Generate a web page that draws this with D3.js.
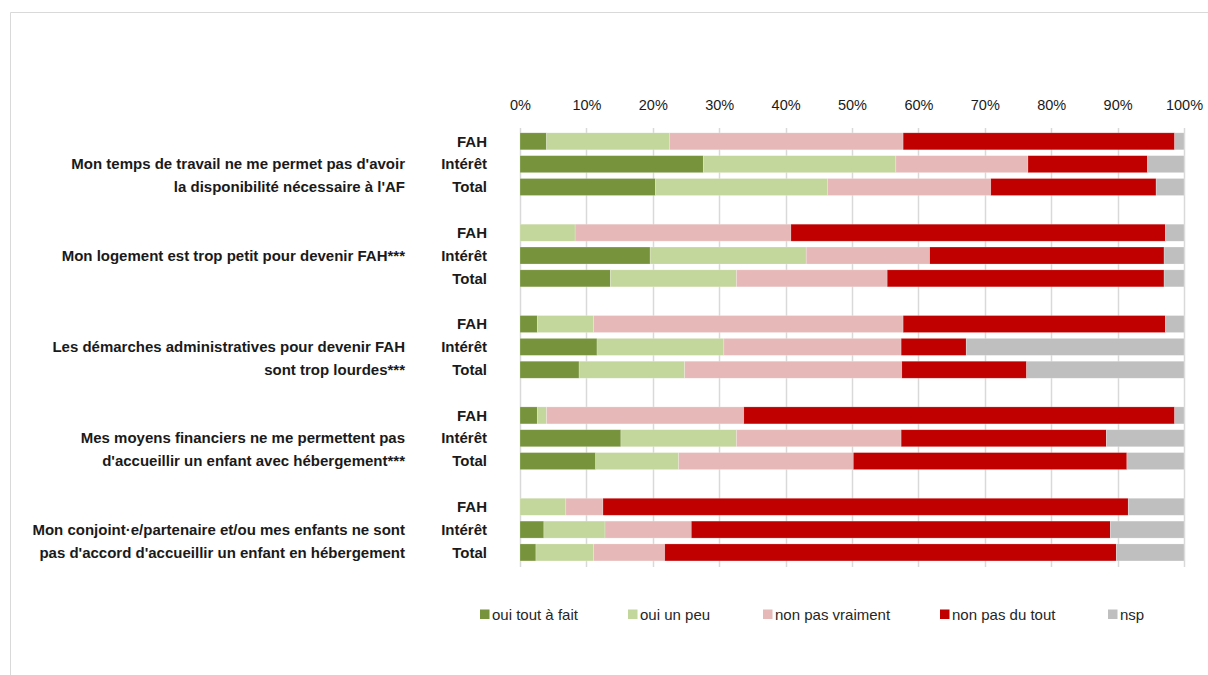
<!DOCTYPE html>
<html lang="fr">
<head>
<meta charset="utf-8">
<script src="https://cdn.jsdelivr.net/npm/d3@7"></script>
<style>
  html, body { margin: 0; padding: 0; background: #fff; }
  svg { display: block; font-family: "Liberation Sans", Arial, sans-serif; }
</style>
</head>
<body>
<svg id="chart" width="1208" height="675"></svg>
<script>
// Reasons given, one block of three bars per statement
const statements = [
  ["Mon temps de travail ne me permet pas d'avoir", "la disponibilité nécessaire à l'AF"],
  ["Mon logement est trop petit pour devenir FAH***"],
  ["Les démarches administratives pour devenir FAH", "sont trop lourdes***"],
  ["Mes moyens financiers ne me permettent pas", "d'accueillir un enfant avec hébergement***"],
  ["Mon conjoint·e/partenaire et/ou mes enfants ne sont", "pas d'accord d'accueillir un enfant en hébergement"]
];
const groups = ["FAH", "Intérêt", "Total"];
const answers = ["oui tout à fait", "oui un peu", "non pas vraiment", "non pas du tout", "nsp"];
const answerColors = ["#77933C", "#C3D69B", "#E6B9B8", "#C00000", "#BFBFBF"];
const tickLabels = ["0%", "10%", "20%", "30%", "40%", "50%", "60%", "70%", "80%", "90%", "100%"];

// Shares (%) per statement, per group, in answer order
const travail = [
  [4.0, 18.5, 35.2, 40.9, 1.4],
  [27.6, 29.0, 19.9, 18.0, 5.5],
  [20.4, 25.9, 24.6, 24.9, 4.2]
];
const logement = [
  [0.0, 8.3, 32.5, 56.4, 2.8],
  [19.6, 23.5, 18.6, 35.3, 3.0],
  [13.6, 19.0, 22.7, 41.7, 3.0]
];
const demarches = [
  [2.6, 8.5, 46.6, 39.5, 2.8],
  [11.6, 19.1, 26.7, 9.8, 32.8],
  [8.9, 15.9, 32.7, 18.8, 23.7]
];
const moyens = [
  [2.6, 1.4, 29.7, 64.9, 1.4],
  [15.2, 17.4, 24.8, 30.9, 11.7],
  [11.4, 12.5, 26.3, 41.2, 8.6]
];
const conjoint = [
  [0.0, 6.9, 5.6, 79.1, 8.4],
  [3.6, 9.2, 13.0, 63.1, 11.1],
  [2.4, 8.7, 10.7, 68.0, 10.2]
];
const shares = [travail, logement, demarches, moyens, conjoint];

// Flatten into rows; a blank slot separates statements
const rows = [];
shares.forEach((block, s) => {
  block.forEach((vals, g) => rows.push({ key: `r${s}-${g}`, s, g, vals }));
});
const slots = [];
shares.forEach((block, s) => {
  if (s > 0) slots.push(`gap${s}`);
  block.forEach((_, g) => slots.push(`r${s}-${g}`));
});

const svg = d3.select("#chart");
const W = 1208, H = 675;
const FONT = "'Liberation Sans', Arial, sans-serif";

// Light frame around the chart area
svg.append("path")
  .attr("d", `M10.5,${H} V12.5 H${W}`)
  .attr("fill", "none").attr("stroke", "#d9d9d9").attr("stroke-width", 1);

const x = d3.scaleLinear().domain([0, 100]).range([520, 1184]);
const step = 22.84;
const y = d3.scaleBand().domain(slots)
  .range([129.9, 129.9 + step * slots.length])
  .paddingInner(0.256).paddingOuter(0.128);

// Vertical gridlines
const ticks = d3.range(0, 101, 10);
svg.append("g").selectAll("line").data(ticks).join("line")
  .attr("x1", d => Math.round(x(d)) + 0.5).attr("x2", d => Math.round(x(d)) + 0.5)
  .attr("y1", 128).attr("y2", 567)
  .attr("stroke", "#d9d9d9").attr("stroke-width", 1.5);

// Top percentage axis
const axis = d3.axisTop(x).tickValues(ticks).tickFormat((d, i) => tickLabels[i]).tickSize(0);
const ax = svg.append("g").attr("transform", "translate(0,113)").call(axis);
ax.select(".domain").remove();
ax.selectAll("text").attr("font-size", 14.5).attr("fill", "#1a1a1a").attr("font-family", FONT);

// Stacked bars
const stack = d3.stack().keys(d3.range(answers.length)).value((d, k) => d.vals[k]);
const series = stack(rows);
svg.append("g").selectAll("g").data(series).join("g")
  .attr("fill", (d, i) => answerColors[i])
  .selectAll("rect").data(d => d).join("rect")
  .attr("x", d => x(d[0]))
  .attr("width", d => Math.max(0, x(d[1]) - x(d[0])))
  .attr("y", d => y(d.data.key))
  .attr("height", y.bandwidth())
  .attr("stroke", "#ffffff").attr("stroke-opacity", 0.35).attr("stroke-width", 0.6);

// Group labels (FAH / Intérêt / Total)
svg.append("g").selectAll("text").data(rows).join("text")
  .attr("x", 487)
  .attr("y", d => y(d.key) + y.bandwidth() / 2)
  .attr("dy", "0.35em")
  .attr("text-anchor", "end")
  .attr("font-size", 15).attr("font-weight", "bold").attr("fill", "#1a1a1a")
  .attr("font-family", FONT)
  .text(d => groups[d.g]);

// Statement labels, starting at the middle bar of each block
const stmt = svg.append("g");
statements.forEach((lines, s) => {
  lines.forEach((line, li) => {
    const key = `r${s}-${1 + li}`;
    stmt.append("text")
      .attr("x", 405)
      .attr("y", y(key) + y.bandwidth() / 2)
      .attr("dy", "0.35em")
      .attr("text-anchor", "end")
      .attr("font-size", 15).attr("font-weight", "bold").attr("fill", "#1a1a1a")
      .attr("font-family", FONT)
      .text(line);
  });
});

// Legend
const legendX = [480, 628, 763, 940, 1108];
const lg = svg.append("g").selectAll("g").data(answers).join("g")
  .attr("transform", (d, i) => `translate(${legendX[i]},609.5)`);
lg.append("rect").attr("width", 9.5).attr("height", 9.5).attr("fill", (d, i) => answerColors[i]);
lg.append("text").attr("x", 12).attr("y", 5.5).attr("dy", "0.35em")
  .attr("font-size", 15).attr("fill", "#262626").attr("font-family", FONT)
  .text(d => d);
</script>
</body>
</html>
